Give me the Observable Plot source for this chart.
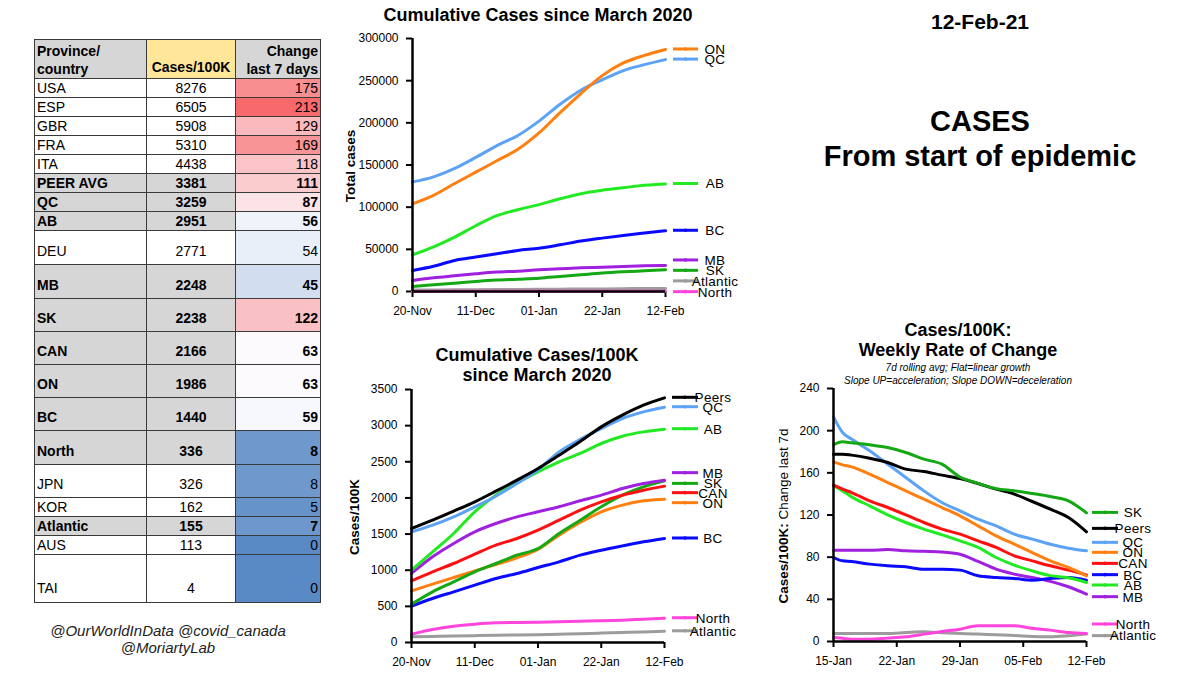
<!DOCTYPE html>
<html><head><meta charset="utf-8">
<script src="https://cdn.jsdelivr.net/npm/d3@7"></script>
<script src="https://cdn.jsdelivr.net/npm/@observablehq/plot@0.6"></script>
<style>
body{margin:0;width:1200px;height:675px;position:relative;background:#fff;font-family:"Liberation Sans",Arial,sans-serif;overflow:hidden;color:#000}
.abs{position:absolute}
.ttl{font-weight:bold;font-size:18px;text-align:center;line-height:20px;white-space:nowrap;transform:translateX(-50%)}
.sub{font-style:italic;font-size:10px;text-align:center;line-height:13px;white-space:nowrap;transform:translateX(-50%)}
.ylab{font-size:13.5px;white-space:nowrap;transform:translate(-50%,-50%) rotate(-90deg)}
#tbl{border-collapse:collapse;table-layout:fixed;width:286px;font-size:14px;border:1.5px solid #333}
#tbl td,#tbl th{border:1px solid #3a3a3a;padding:0 2px;line-height:15px;overflow:hidden;white-space:nowrap;box-sizing:border-box}
#tbl th{font-weight:bold}
g[aria-label$="-axis tick"], g[aria-label$="-axis tick"] path, .tick line{stroke-width:2px}
</style></head><body>
<div id="tblwrap" class="abs" style="left:34px;top:39px"></div>
<div class="abs" id="foot" style="left:168px;top:622px;transform:translateX(-50%);font-style:italic;font-size:15px;line-height:17px;text-align:center;white-space:nowrap;color:#222"></div>

<div class="abs ttl" id="t1" style="left:538px;top:5px"></div>
<div class="abs ylab" id="y1" style="left:350px;top:166px;font-weight:bold"></div>
<div id="c1" class="abs" style="left:330px;top:20px"></div>

<div class="abs ttl" id="t2" style="left:537px;top:345px"></div>
<div class="abs ylab" id="y2" style="left:354px;top:517px;font-weight:bold"></div>
<div id="c2" class="abs" style="left:330px;top:380px"></div>

<div class="abs ttl" id="t3" style="left:958px;top:320px"></div>
<div class="abs sub" id="s3" style="left:958px;top:361px"></div>
<div class="abs ylab" id="y3" style="left:783px;top:516px"></div>
<div id="c3" class="abs" style="left:770px;top:378px"></div>

<div class="abs" id="date" style="left:980px;top:10px;transform:translateX(-50%);font-weight:bold;font-size:21px;white-space:nowrap"></div>
<div class="abs" id="big" style="left:980px;top:104px;transform:translateX(-50%);font-weight:bold;font-size:29px;line-height:35px;text-align:center;white-space:nowrap"></div>

<script>
// ---------------- DATA ----------------
// Table
const tableHeaders = [["Province/","country"],["Cases/100K"],["Change","last 7 days"]];
const regions = ["USA","ESP","GBR","FRA","ITA","PEER AVG","QC","AB","DEU","MB","SK","CAN","ON","BC","North","JPN","KOR","Atlantic","AUS","TAI"];
const casesPer100K = [8276,6505,5908,5310,4438,3381,3259,2951,2771,2248,2238,2166,1986,1440,336,326,162,155,113,4];
const change7d = [175,213,129,169,118,111,87,56,54,45,122,63,63,59,8,8,5,7,0,0];
const canadianRows = ["PEER AVG","QC","AB","MB","SK","CAN","ON","BC","North","Atlantic"];

// Chart 1 & 2 dates (weekly)
const datesCum = ["2020-11-20","2020-11-27","2020-12-04","2020-12-11","2020-12-18","2020-12-25","2021-01-01","2021-01-08","2021-01-15","2021-01-22","2021-01-29","2021-02-05","2021-02-12"];
const ticksCum = ["2020-11-20","2020-12-11","2021-01-01","2021-01-22","2021-02-12"];

// Chart 1: total cases
const totalON = [104000,114000,128000,141500,155000,168600,188000,212000,235000,256000,271000,280000,287000];
const totalQC = [130000,136000,146000,159000,173000,185000,202000,222000,239000,251000,262000,269000,275000];
const totalAB = [43500,53000,64500,78000,90000,97000,103000,110000,116000,120000,123000,126000,127500];
const totalBC = [25000,30000,36800,40800,44700,48700,51400,55400,59800,63300,66500,69300,72000];
const totalMB = [13000,16200,18600,21000,23000,24100,25700,26900,28100,28900,29700,30500,30900];
const totalSK = [5900,7900,9900,11900,13500,14600,15800,17800,19800,21800,23300,24500,25700];
const totalAtlantic = [1700,1850,2000,2200,2350,2450,2550,2750,2900,3100,3300,3500,3700];
const totalNorth = [140,220,280,310,330,340,345,350,360,370,380,395,420];

// Chart 2: cumulative cases / 100K
const per100kPeers = [1577,1692,1817,1946,2093,2246,2407,2591,2780,2983,3145,3283,3385];
const per100kQC = [1531,1623,1738,1877,2024,2199,2390,2637,2810,2960,3099,3191,3255];
const per100kAB = [1000,1254,1508,1808,2038,2209,2361,2499,2615,2753,2854,2914,2951];
const per100kMB = [955,1185,1370,1531,1646,1738,1808,1877,1960,2038,2130,2199,2246];
const per100kSK = [530,701,839,978,1093,1208,1300,1508,1692,1877,2038,2153,2236];
const per100kCAN = [853,978,1093,1222,1346,1439,1554,1692,1831,1946,2038,2107,2163];
const per100kON = [715,807,899,991,1079,1171,1287,1485,1660,1808,1900,1960,1983];
const per100kBC = [503,609,701,793,885,955,1037,1116,1208,1277,1337,1393,1439];
const per100kNorth = [115,180,226,254,272,277,281,286,295,300,309,323,336];
const per100kAtlantic = [78,84,90,95,100,104,108,115,122,130,138,146,155];

// Chart 3: weekly change per 100K
const datesWk = ["2021-01-15","2021-01-16","2021-01-17","2021-01-19","2021-01-21","2021-01-23","2021-01-25","2021-01-27","2021-01-29","2021-01-31","2021-02-02","2021-02-04","2021-02-06","2021-02-08","2021-02-10","2021-02-12"];
const ticksWk = ["2021-01-15","2021-01-22","2021-01-29","2021-02-05","2021-02-12"];
const weekSK = [186.6,189.4,188.5,186.6,184,179.3,173,168.2,156,150,145,143,140.4,137.5,133.5,122];
const weekPeers = [177.7,177.7,176.8,173.9,169.8,163.5,161.3,157.8,154.6,149.9,144.5,139.8,132.8,125.5,117.6,104];
const weekQC = [213.1,198.3,192,180.9,168.2,155.6,142.9,131.9,124,116,109.7,101.8,97.1,92.3,88.5,86];
const weekON = [170.4,167.6,165.7,158.7,150.8,142.9,135,127.1,119.2,109.7,100.2,92.3,84.4,76.5,70.2,62.3];
const weekCAN = [148.6,144.5,141.3,133.4,127.1,120.2,112.9,106.6,101.8,95.5,89.2,81.3,76.5,71.8,67.7,63.2];
const weekBC = [79.7,76.5,75.9,73.4,71.8,70.8,68.6,68.6,67.7,62.3,60.7,59.8,58.2,59.8,60.7,58.2];
const weekAB = [147.7,142.9,137.2,128.7,120.2,112.9,106.6,101.2,95.5,89.2,79.7,72.5,67,62.5,60.5,56];
const weekMB = [86.6,86.6,86.6,86.6,87.2,86,85.5,85,82.8,75.9,68.6,63.9,60.7,57,51.9,44.9];
const weekNorth = [3.8,3,2.2,2.2,3.2,4.4,7,9.5,11.7,14.9,14.9,14.9,12.6,10.8,8.5,7.6];
const weekAtlantic = [7.6,7.6,7.6,7.6,7.6,8.5,9.2,8.2,7.6,7,6.3,5.7,4.7,4.4,5.4,7];

// Text
const chart1Title = "Cumulative Cases since March 2020";
const chart1YLabel = "Total cases";
const chart2Title = ["Cumulative Cases/100K","since March 2020"];
const chart2YLabel = "Cases/100K";
const chart3Title = ["Cases/100K:","Weekly Rate of Change"];
const chart3Sub = ["7d rolling avg; Flat=linear growth","Slope UP=acceleration; Slope DOWN=deceleration"];
const chart3YLabel = ["Cases/100K:"," Change last 7d"];
const dateText = "12-Feb-21";
const bigText = ["CASES","From start of epidemic"];
const footText = ["@OurWorldInData @covid_canada","@MoriartyLab"];

// ---------------- STYLE / LAYOUT ----------------
const colors = {ON:"#ff7f10", QC:"#5ca2f5", AB:"#22ea22", BC:"#0a0aff", MB:"#a020e0", SK:"#14a814", Atlantic:"#9c9c9c", North:"#ff45dc", CAN:"#ff1010", Peers:"#000000"};
const rowHeights = [19,19,19,19,19,19,19,19,34,34,33,33,33,33,34,33,19,19,19,48];
const FONT = "'Liberation Sans', Arial, sans-serif";

// ---------------- TABLE ----------------
(function(){
  const heat = d3.scaleLinear().domain([d3.min(change7d), d3.median(change7d), d3.max(change7d)]).range(["#5a8ac6","#fcfcff","#f8696b"]);
  const t = d3.select("#tblwrap").append("table").attr("id","tbl");
  const cg = t.append("colgroup");
  [112,89,85].forEach(w => cg.append("col").style("width", w+"px"));
  const hr = t.append("tr").style("height","37px");
  const hAlign = ["left","center","right"], hV = ["top","bottom","top"], hBg = ["#d6d6d6","#ffe699","#d6d6d6"];
  tableHeaders.forEach((lines,i) => {
    const th = hr.append("th").style("text-align",hAlign[i]).style("vertical-align",hV[i]).style("background",hBg[i])
      .style("padding", i===1 ? "0 2px 2px 2px" : "2px 2px 0 2px").style("line-height","18px");
    th.html(lines.map(s => s.replace(/&/g,"&amp;")).join("<br>"));
  });
  regions.forEach((r,i) => {
    const can = canadianRows.includes(r);
    const h = rowHeights[i];
    const pb = h > 25 ? (h > 40 ? 6 : 5) : 1;
    const tr = t.append("tr").style("height", h+"px").style("font-weight", can ? "bold" : "normal");
    const cells = [r, casesPer100K[i], change7d[i]];
    cells.forEach((v,j) => {
      tr.append("td").text(v)
        .style("text-align", hAlign[j]).style("vertical-align","bottom")
        .style("padding-bottom", pb+"px")
        .style("height", h+"px")
        .style("background", j===2 ? heat(change7d[i]) : (can ? "#d6d6d6" : "#ffffff"));
    });
  });
})();

// ---------------- TEXT ----------------
d3.select("#t1").text(chart1Title);
d3.select("#y1").text(chart1YLabel);
d3.select("#t2").html(chart2Title.join("<br>"));
d3.select("#y2").text(chart2YLabel);
d3.select("#t3").html(chart3Title.join("<br>"));
d3.select("#s3").html(chart3Sub.join("<br>"));
d3.select("#y3").html("<b>"+chart3YLabel[0]+"</b>"+chart3YLabel[1].replace(" ","&nbsp;"));
d3.select("#date").text(dateText);
d3.select("#big").html(bigText.join("<br>"));
d3.select("#foot").html(footText.join("<br>"));

// ---------------- CHARTS ----------------
function toLong(dates, obj){
  return Object.entries(obj).flatMap(([k, vals]) => vals.map((v,i) => ({series:k, date:new Date(dates[i]), value:v})));
}

function makeChart(el, {dates, series, ticks, yDomain, yTicks, margins, height, legend}){
  const order = Object.keys(series);
  const data = toLong(dates, series);
  const xt = ticks.map(d => new Date(d));
  const plot = Plot.plot({
    width: 430, height,
    marginLeft: margins[0], marginTop: margins[1], marginRight: margins[2], marginBottom: margins[3],
    style: {fontFamily: FONT, fontSize: "12px", color: "#000", background: "transparent", overflow: "visible"},
    x: {type: "utc", domain: [xt[0], xt[xt.length-1]], ticks: xt, tickFormat: d3.utcFormat("%d-%b"), tickSize: 6, tickPadding: 9, label: null},
    y: {domain: yDomain, ticks: yTicks, tickFormat: d3.format("d"), tickSize: 6, tickPadding: 8, label: null},
    color: {domain: order, range: order.map(k => colors[k])},
    marks: [
      Plot.line(data, {x: "date", y: "value", z: "series", stroke: "series", strokeWidth: 3, curve: "monotone-x"}),
      Plot.ruleY([yDomain[0]], {strokeWidth: 2.5}),
      Plot.ruleX([xt[0]], {strokeWidth: 2.5})
    ]
  });
  document.getElementById(el).appendChild(plot);
  // legend at the end of the lines, positioned via the plot's scales
  const ys = plot.scale("y"), xs = plot.scale("x");
  const y = d3.scaleLinear(ys.domain, ys.range);
  const xEnd = xs.range[1];
  const g = d3.select(plot).append("g").attr("font-family", FONT).attr("font-size", "13.5px");
  legend.names.forEach(name => {
    const vals = series[name];
    const yy = y(vals[vals.length-1]) + (legend.nudge[name] || 0);
    g.append("line").attr("x1", xEnd + legend.x1).attr("x2", xEnd + legend.x2).attr("y1", yy).attr("y2", yy)
      .attr("stroke", colors[name]).attr("stroke-width", 3);
    g.append("circle").attr("cx", xEnd + (legend.x1 + legend.x2)/2).attr("cy", yy).attr("r", 1.8).attr("fill", colors[name]);
    g.append("text").attr("x", xEnd + legend.tx).attr("y", yy).attr("dy", "0.36em").attr("fill", "#000")
      .attr("letter-spacing", "0.3px").text(name);
  });
}

makeChart("c1", {
  dates: datesCum, ticks: ticksCum,
  series: {Atlantic: totalAtlantic, North: totalNorth, SK: totalSK, MB: totalMB, BC: totalBC, AB: totalAB, QC: totalQC, ON: totalON},
  yDomain: [0, 300000], yTicks: d3.range(0, 300001, 50000),
  margins: [82, 18, 95, 30], height: 301,
  legend: {names: ["ON","QC","AB","BC","MB","SK","Atlantic","North"], nudge: {MB: -5, SK: 1, Atlantic: -7, North: 1}, x1: 8, x2: 33, tx: 50}
});

makeChart("c2", {
  dates: datesCum, ticks: ticksCum,
  series: {Atlantic: per100kAtlantic, North: per100kNorth, BC: per100kBC, ON: per100kON, SK: per100kSK, CAN: per100kCAN, MB: per100kMB, AB: per100kAB, QC: per100kQC, Peers: per100kPeers},
  yDomain: [0, 3500], yTicks: d3.range(0, 3501, 500),
  margins: [81, 9, 96, 30], height: 292,
  legend: {names: ["Peers","QC","AB","MB","SK","CAN","ON","BC","North","Atlantic"], nudge: {MB: -7, SK: 3, CAN: 7, ON: 4}, x1: 8, x2: 34, tx: 49}
});

makeChart("c3", {
  dates: datesWk, ticks: ticksWk,
  series: {Atlantic: weekAtlantic, North: weekNorth, MB: weekMB, BC: weekBC, AB: weekAB, CAN: weekCAN, ON: weekON, QC: weekQC, Peers: weekPeers, SK: weekSK},
  yDomain: [0, 240], yTicks: d3.range(0, 241, 40),
  margins: [63, 10, 114, 30], height: 293,
  legend: {names: ["SK","Peers","QC","ON","CAN","BC","AB","MB","North","Atlantic"], nudge: {Peers: -3, QC: -8, ON: -23, CAN: -11, BC: -5, AB: 3, MB: 3, North: -9, Atlantic: 2}, x1: 6, x2: 32, tx: 47}
});
</script>
</body></html>
